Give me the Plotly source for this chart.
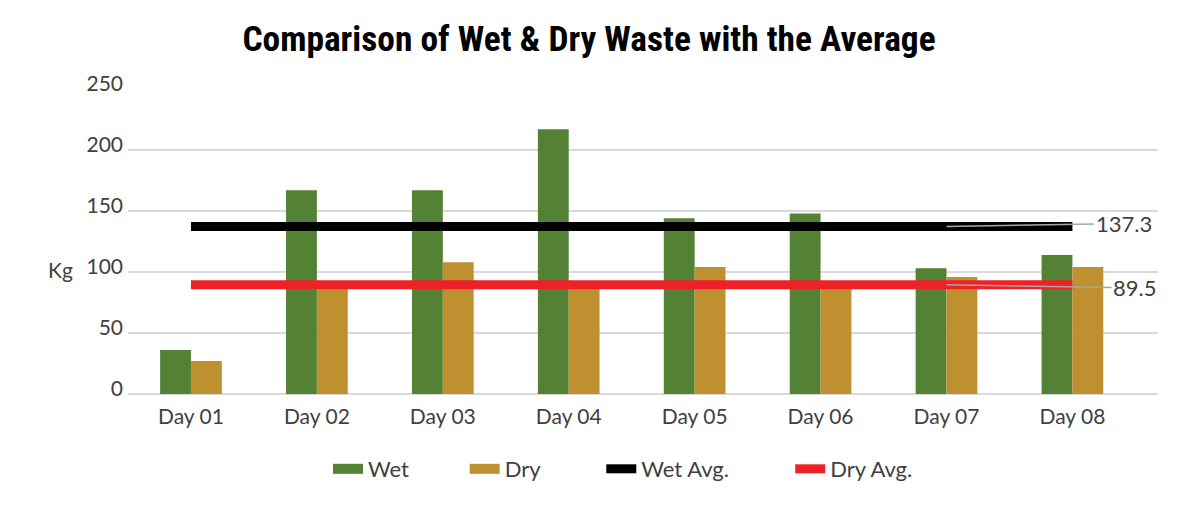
import plotly.graph_objects as go

days = ["Day 01", "Day 02", "Day 03", "Day 04", "Day 05", "Day 06", "Day 07", "Day 08"]
wet = [36, 167, 167, 217, 144, 148, 103, 114]
dry = [27, 92, 108, 92, 104, 92, 96, 104]
wet_avg = 137.3
dry_avg = 89.5

GREEN = "#548235"
GOLD = "#BF9030"
RED = "#EE2226"
BLACK = "#000000"
TXT = "#404040"
FONT = "Lato, 'Open Sans', sans-serif"
NB = "\u00a0"

# page has an 8px body margin; figure sized so it fits the window exactly
W, H = 1182, 499
L, R, T, B = 120, 32, 81, 113
PW, PH = W - L - R, H - T - B


def px_x(p):
    return (p - L) / PW


def px_y(p):
    return (H - B - p) / PH


fig = go.Figure()
fig.add_trace(go.Bar(x=days, y=wet, name="Wet", marker=dict(color=GREEN, line=dict(width=0)),
                     showlegend=False))
fig.add_trace(go.Bar(x=days, y=dry, name="Dry", marker=dict(color=GOLD, line=dict(width=0)),
                     showlegend=False))
# legend entries for the bars
fig.add_trace(go.Scatter(x=[None], y=[None], mode="lines", name="Wet" + NB * 9,
                         line=dict(color=GREEN, width=11)))
fig.add_trace(go.Scatter(x=[None], y=[None], mode="lines", name="Dry" + NB * 10,
                         line=dict(color=GOLD, width=11)))
fig.add_trace(go.Scatter(x=days, y=[wet_avg] * len(days), mode="lines", name="Wet Avg." + NB * 10,
                         line=dict(color=BLACK, width=9)))
fig.add_trace(go.Scatter(x=days, y=[dry_avg] * len(days), mode="lines", name="Dry Avg.",
                         line=dict(color=RED, width=9)))

shapes = [
    dict(type="rect", xref="paper", yref="paper", layer="below",
         x0=px_x(1178), x1=px_x(1190), y0=px_y(-10), y1=px_y(510),
         fillcolor="#DDE3E0", line=dict(width=0)),
]

annotations = [
    dict(x=days[6], y=wet_avg, xref="x", yref="y", text="137.3", showarrow=True,
         arrowhead=0, arrowwidth=1.5, arrowcolor="#A6A6A6", ax=177, ay=-3,
         font=dict(family=FONT, size=22, color=TXT)),
    dict(x=days[6], y=dry_avg, xref="x", yref="y", text="89.5", showarrow=True,
         arrowhead=0, arrowwidth=1.5, arrowcolor="#A6A6A6", ax=188, ay=3,
         font=dict(family=FONT, size=22, color=TXT)),
    dict(x=px_x(52), y=px_y(261), xref="paper", yref="paper", text="Kg", showarrow=False,
         xanchor="center", yanchor="middle", font=dict(family=FONT, size=21, color=TXT)),
]

fig.update_layout(
    width=W, height=H,
    margin=dict(l=L, r=R, t=T, b=B),
    paper_bgcolor="white",
    plot_bgcolor="white",
    title=dict(text="<b>Comparison of Wet &amp; Dry Waste with the Average</b>",
               x=581 / W, xanchor="center", xref="container", y=1 - 31 / H, yanchor="middle",
               yref="container",
               font=dict(family="'Roboto Condensed', 'Liberation Sans Narrow', sans-serif",
                         size=35.4, color="#000000")),
    barmode="group", bargap=0.51, bargroupgap=0,
    xaxis=dict(showgrid=False, showline=False, ticks="", ticklabelstandoff=8,
               tickfont=dict(family=FONT, size=21, color=TXT)),
    yaxis=dict(range=[0, 250], dtick=50, showgrid=True, gridcolor="#D9D9D9", gridwidth=1.5,
               zeroline=True, zerolinecolor="#D9D9D9", zerolinewidth=1.5, showline=False,
               ticks="", ticklabelstandoff=4, ticklabelshift=-5,
               tickfont=dict(family=FONT, size=21, color=TXT)),
    legend=dict(orientation="h", x=px_x(320), xanchor="left", y=px_y(461), yanchor="middle",
                font=dict(family=FONT, size=22, color=TXT), bgcolor="rgba(0,0,0,0)"),
    shapes=shapes,
    annotations=annotations,
)

fig.write_html("out.html")
